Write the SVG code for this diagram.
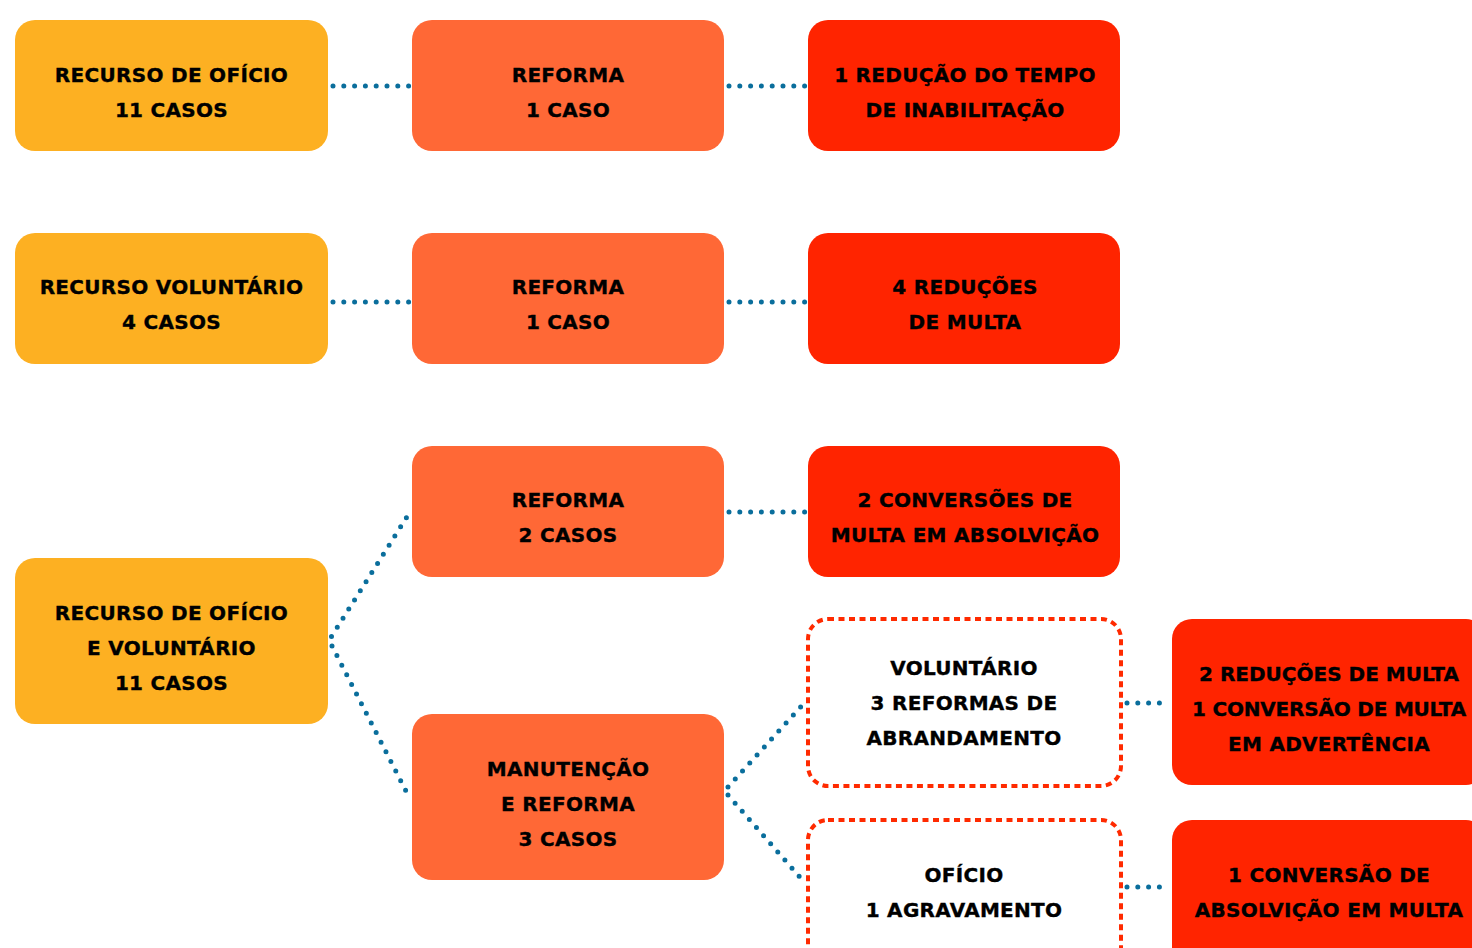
<svg xmlns="http://www.w3.org/2000/svg" width="1472" height="948" viewBox="0 0 1472 948">
<style>
.y{fill:#FDB022}
.o{fill:#FF6836}
.r{fill:#FF2400}
.d{fill:#fff;stroke:#FF2A00;stroke-width:4;stroke-dasharray:6 4.5}
.c{fill:none;stroke:#0A6E9C;stroke-width:5;stroke-linecap:round;stroke-dasharray:0 10.8}
text{font-family:"DejaVu Sans","Verdana",sans-serif;font-weight:bold;font-size:20px;fill:#000;stroke:#000;stroke-width:0.35;text-anchor:middle;letter-spacing:0.3px}
</style>
<rect width="1472" height="948" fill="#fff"/>
<g id="connectors">
<line class="c" x1="333" y1="86" x2="409" y2="86"/>
<line class="c" x1="729" y1="86" x2="806" y2="86"/>
<line class="c" x1="333" y1="302" x2="409" y2="302"/>
<line class="c" x1="729" y1="302" x2="806" y2="302"/>
<line class="c" x1="729" y1="512" x2="806" y2="512"/>
<line class="c" x1="331.5" y1="636.5" x2="410" y2="512"/>
<line class="c" x1="332" y1="646" x2="409" y2="797"/>
<line class="c" x1="728" y1="787" x2="807" y2="700"/>
<line class="c" x1="728" y1="795" x2="805" y2="883"/>
<line class="c" x1="1127" y1="703" x2="1170" y2="703"/>
<line class="c" x1="1127" y1="887" x2="1170" y2="887"/>
</g>
<g id="n1"><rect class="y" x="15" y="20" width="313" height="131" rx="20"/><text x="171.5" y="81.5">RECURSO DE OFÍCIO</text><text x="171.5" y="116.5">11 CASOS</text></g>
<g id="n2"><rect class="o" x="412" y="20" width="312" height="131" rx="20"/><text x="568" y="81.5">REFORMA</text><text x="568" y="116.5">1 CASO</text></g>
<g id="n3"><rect class="r" x="808" y="20" width="312" height="131" rx="20"/><text x="965" y="81.5">1 REDUÇÃO DO TEMPO</text><text x="965" y="116.5">DE INABILITAÇÃO</text></g>
<g id="n4"><rect class="y" x="15" y="233" width="313" height="131" rx="20"/><text x="171.5" y="293.5">RECURSO VOLUNTÁRIO</text><text x="171.5" y="328.5">4 CASOS</text></g>
<g id="n5"><rect class="o" x="412" y="233" width="312" height="131" rx="20"/><text x="568" y="293.5">REFORMA</text><text x="568" y="328.5">1 CASO</text></g>
<g id="n6"><rect class="r" x="808" y="233" width="312" height="131" rx="20"/><text x="965" y="293.5">4 REDUÇÕES</text><text x="965" y="328.5">DE MULTA</text></g>
<g id="n7"><rect class="o" x="412" y="446" width="312" height="131" rx="20"/><text x="568" y="506.5">REFORMA</text><text x="568" y="541.5">2 CASOS</text></g>
<g id="n8"><rect class="r" x="808" y="446" width="312" height="131" rx="20"/><text x="965" y="506.5">2 CONVERSÕES DE</text><text x="965" y="541.5">MULTA EM ABSOLVIÇÃO</text></g>
<g id="n9"><rect class="y" x="15" y="558" width="313" height="166" rx="20"/><text x="171.5" y="619.5">RECURSO DE OFÍCIO</text><text x="171.5" y="654.5">E VOLUNTÁRIO</text><text x="171.5" y="689.5">11 CASOS</text></g>
<g id="n10"><rect class="o" x="412" y="714" width="312" height="166" rx="20"/><text x="568" y="775.5">MANUTENÇÃO</text><text x="568" y="810.5">E REFORMA</text><text x="568" y="845.5">3 CASOS</text></g>
<g id="n11"><rect class="d" x="808" y="619" width="313" height="167" rx="20"/><text x="964" y="674.5">VOLUNTÁRIO</text><text x="964" y="709.5">3 REFORMAS DE</text><text x="964" y="744.5">ABRANDAMENTO</text></g>
<g id="n12"><rect class="d" x="808" y="820" width="313" height="166" rx="20"/><text x="964" y="881.5">OFÍCIO</text><text x="964" y="916.5">1 AGRAVAMENTO</text></g>
<g id="n13"><rect class="r" x="1172" y="619" width="314" height="166" rx="20"/><text x="1329" y="680.5" style="letter-spacing:0">2 REDUÇÕES DE MULTA</text><text x="1329" y="715.5" style="letter-spacing:-0.2px">1 CONVERSÃO DE MULTA</text><text x="1329" y="750.5">EM ADVERTÊNCIA</text></g>
<g id="n14"><rect class="r" x="1172" y="820" width="314" height="166" rx="20"/><text x="1329" y="881.5">1 CONVERSÃO DE</text><text x="1329" y="916.5">ABSOLVIÇÃO EM MULTA</text></g>
</svg>
